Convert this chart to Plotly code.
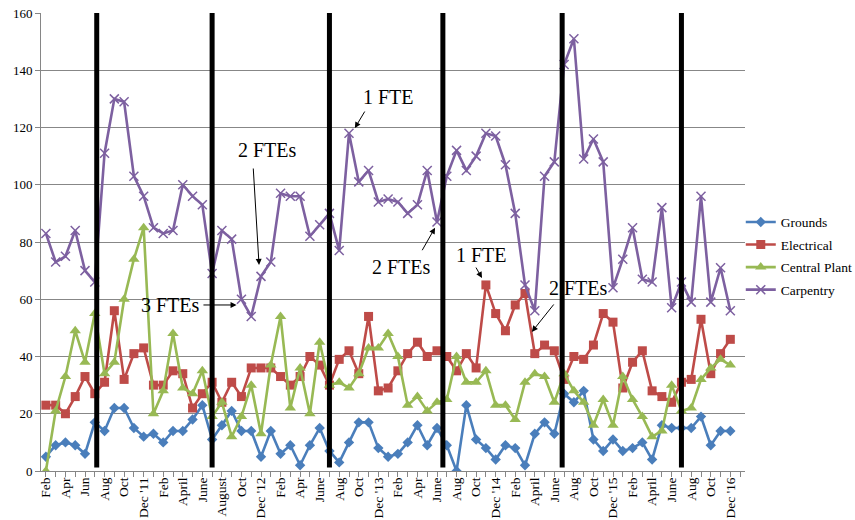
import plotly.graph_objects as go

# Month categories Feb 2011 .. Dec 2016 (71 months) + one empty slot
months = []
for yr in range(2011, 2017):
    for m in range(1, 13):
        if yr == 2011 and m == 1:
            continue
        months.append(f"{yr}-{m:02d}")
axis_categories = months + ["2017-01"]

tick_labels = ["Feb", "Apr", "Jun", "Aug", "Oct", "Dec '11",
               "Feb", "April", "June", "August", "Oct", "Dec '12",
               "Feb", "Apr", "June", "Aug", "Oct", "Dec '13",
               "Feb", "Apr", "June", "Aug", "Oct", "Dec '14",
               "Feb", "April", "June", "Aug", "Oct", "Dec '15",
               "Feb", "April", "June", "Aug", "Oct", "Dec '16"]
tick_months = months[::2]

grounds = [5, 9, 10, 9, 6, 17, 14, 22, 22, 15, 12, 13, 10, 14, 14, 18, 23, 11, 16, 21,
           14, 14, 5, 14, 6, 9, 2, 9, 15, 7, 3, 10, 17, 17, 8, 5, 6, 10, 16, 9,
           15, 9, 0, 23, 11, 8, 4, 9, 8, 2, 13, 17, 13, 27, 24, 28, 11, 7, 11, 7,
           8, 10, 4, 16, 15, 15, 15, 19, 9, 14, 14]
electrical = [23, 23, 20, 26, 33, 27, 31, 56, 32, 41, 43, 30, 30, 35, 34, 22, 27, 31, 24, 31,
              26, 36, 36, 36, 33, 30, 33, 40, 37, 30, 39, 42, 34, 54, 28, 29, 35, 41, 45, 40,
              42, 40, 35, 41, 36, 65, 55, 49, 58, 62, 41, 44, 42, 32, 40, 39, 44, 55, 52, 29,
              38, 42, 28, 26, 24, 31, 32, 53, 34, 41, 46]
central_plant = [0, 21, 33, 49, 38, 55, 34, 38, 60, 74, 85, 20, 28, 48, 29, 27, 35, 19, 24, 12,
                 19, 30, 13, 37, 54, 22, 36, 20, 45, 30, 31, 29, 34, 43, 43, 48, 40, 23, 26, 21,
                 24, 25, 40, 31, 31, 35, 23, 23, 18, 31, 34, 33, 24, 34, 28, 24, 16, 25, 16, 33,
                 25, 19, 12, 14, 30, 21, 22, 32, 36, 39, 37]
carpentry = [83, 73, 75, 84, 70, 66, 111, 130, 129, 103, 96, 85, 83, 84, 100, 96, 93, 69, 84, 81,
             60, 54, 68, 73, 97, 96, 96, 82, 86, 90, 77, 118, 101, 105, 94, 95, 94, 90, 93, 105,
             87, 103, 112, 105, 110, 118, 117, 107, 90, 65, 56, 103, 108, 142, 151, 109, 116, 108, 64, 74,
             85, 67, 66, 92, 57, 66, 59, 96, 59, 71, 56]

# fiscal-year divider positions (category index)
dividers = [5.2, 17.0, 29.0, 40.6, 52.8, 65.0]

FONT = "Liberation Serif"

series = [
    ("Grounds", grounds, "#4A7EBB", "diamond", 8),
    ("Electrical", electrical, "#BE4B48", "square", 9),
    ("Central Plant", central_plant, "#98B954", "triangle-up", 10),
    ("Carpentry", carpentry, "#7D60A0", "x-thin", 9),
]

fig = go.Figure()
for name, vals, color, sym, size in series:
    marker = dict(symbol=sym, size=size, color=color)
    if sym == "x-thin":
        marker["line"] = dict(color=color, width=1.5)
    fig.add_trace(go.Scatter(
        x=months, y=vals, name=name, mode="lines+markers",
        line=dict(color=color, width=2.6), marker=marker,
        legendgroup=name,
    ))

shapes = []
for d in dividers:
    shapes.append(dict(type="line", xref="x", yref="y", x0=d, x1=d, y0=1.2, y1=160,
                       line=dict(color="black", width=5)))

annots = []
texts = [("1 FTE", 35.0, 130.7), ("2 FTEs", 22.7, 112.1), ("3 FTEs", 12.7, 58.0),
         ("2 FTEs", 36.4, 71.4), ("1 FTE", 44.6, 75.5), ("2 FTEs", 54.5, 63.9)]
for t, x, y in texts:
    annots.append(dict(x=x, y=y, xref="x", yref="y", text=t, showarrow=False,
                       font=dict(family=FONT, size=20, color="black")))
arrows = [((32.7, 126.1), (31.6, 119.8)), ((21.2, 106.2), (21.8, 72.0)),
          ((15.96, 58.0), (19.5, 58.0)), ((38.4, 76.6), (39.8, 85.0)),
          ((43.9, 71.6), (44.6, 67.4)), ((52.06, 58.7), (49.7, 48.6))]
for (tx, ty), (hx, hy) in arrows:
    annots.append(dict(x=hx, y=hy, ax=tx, ay=ty, xref="x", yref="y", axref="x", ayref="y",
                       text="", showarrow=True, arrowhead=2, arrowsize=1.2, arrowwidth=1,
                       arrowcolor="black", standoff=0, startstandoff=0))

fig.update_layout(
    width=855, height=520,
    margin=dict(l=41, r=110, t=13, b=49, autoexpand=False),
    paper_bgcolor="white", plot_bgcolor="white",
    font=dict(family=FONT, size=13, color="black"),
    showlegend=True,
    legend=dict(x=0.994, y=0.577, xanchor="left", yanchor="top",
                font=dict(family=FONT, size=13.5, color="black"),
                tracegroupgap=2, bgcolor="rgba(0,0,0,0)"),
    shapes=shapes,
    annotations=annots,
)
fig.update_xaxes(
    type="category", categoryorder="array", categoryarray=axis_categories,
    range=[-0.5, len(axis_categories) - 0.5],
    tickmode="array", tickvals=tick_months, ticktext=tick_labels,
    tickangle=-90, tickfont=dict(family=FONT, size=13.5, color="black"),
    showgrid=False, showline=True, linecolor="#868686", linewidth=1,
    ticks="", automargin=False, zeroline=False,
    minor=dict(ticks="outside", ticklen=5, tickcolor="#868686", tickmode="linear", tick0=-0.5, dtick=1),
)
fig.update_yaxes(
    range=[0, 160], tickmode="linear", tick0=0, dtick=20,
    showgrid=True, gridcolor="#878787", gridwidth=1,
    showline=True, linecolor="#868686", linewidth=1,
    ticks="outside", ticklen=5, tickcolor="#868686",
    tickfont=dict(family=FONT, size=13, color="black"),
    ticklabeloverflow="allow",
    zeroline=False, automargin=False,
)

fig.write_html("out.html", config={"displayModeBar": False},
               post_script="document.body.style.margin='0';")
